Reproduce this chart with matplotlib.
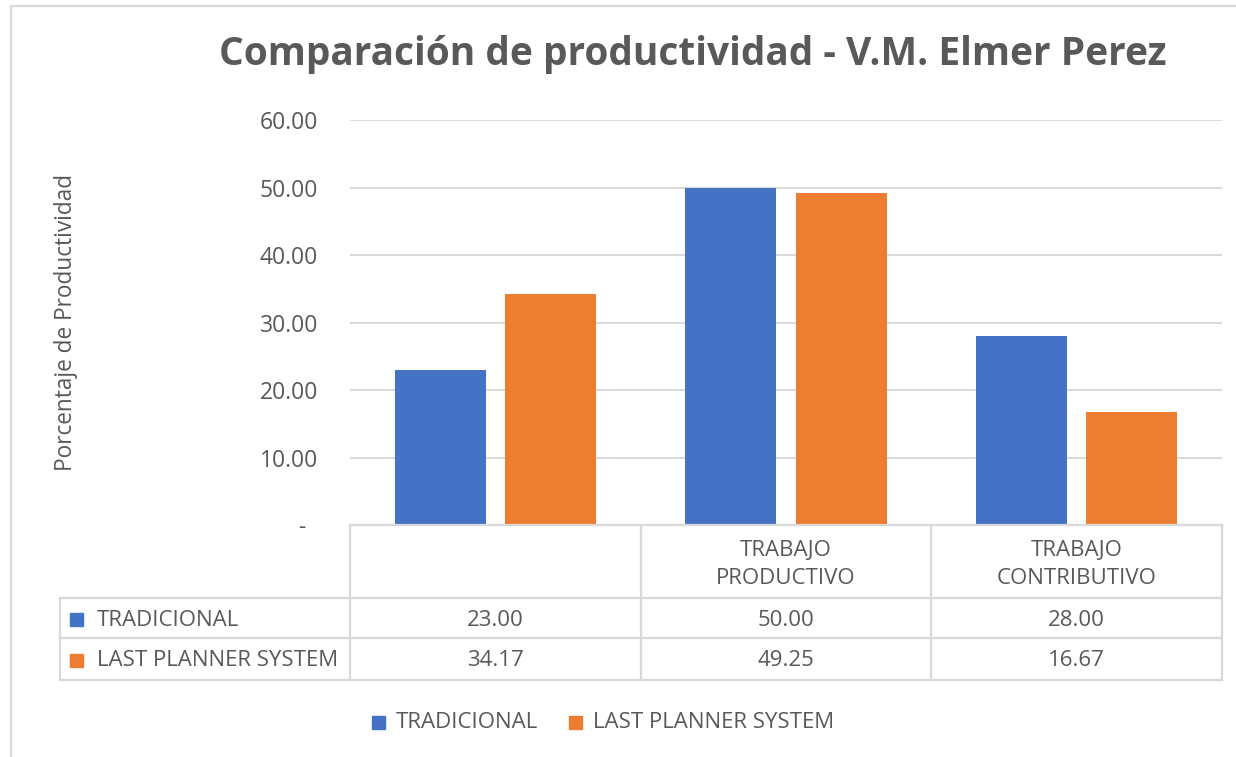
import matplotlib
matplotlib.use("Agg")
import matplotlib.pyplot as plt
from matplotlib.lines import Line2D
from matplotlib.patches import Rectangle
from matplotlib.transforms import blended_transform_factory

categories = ["", "TRABAJO\nPRODUCTIVO", "TRABAJO\nCONTRIBUTIVO"]
series_names = ["TRADICIONAL", "LAST PLANNER SYSTEM"]
tradicional = [23.00, 50.00, 28.00]
last_planner = [34.17, 49.25, 16.67]
yticks = [0, 10, 20, 30, 40, 50, 60]
colors = ["#4472C4", "#ED7D31"]
title = "Comparación de productividad - V.M. Elmer Perez"
ylabel = "Porcentaje de Productividad"

W, H = 1236, 757
FONT = "Open Sans"
TXT = "#595959"
GRID = "#D9D9D9"
FS = 16

fig = plt.figure(figsize=(W / 100, H / 100), dpi=100)
fig.patch.set_facecolor("white")

def fx(x):
    return x / W

def fy(y):
    return 1 - y / H

ax = fig.add_axes([fx(350), fy(525), fx(1222) - fx(350), (525 - 120) / H])
series = [tradicional, last_planner]
n = len(categories)
xs = list(range(n))
bw = 0.313
offs = [-0.19, 0.19]
for s, vals in enumerate(series):
    ax.bar([x + offs[s] for x in xs], vals, width=bw, color=colors[s], zorder=3)

ax.set_xlim(-0.5, n - 0.5)
ax.set_ylim(0, 60)
ax.set_yticks(yticks)
ax.set_yticklabels(["-  " if v == 0 else f"{v:.2f}" for v in yticks],
                   fontfamily=FONT, fontsize=16.5, color=TXT)
ax.tick_params(axis="y", length=0, pad=23)
ax.set_xticks([])
ax.grid(axis="y", color=GRID, linewidth=1.4, zorder=0)
for sp in ax.spines.values():
    sp.set_visible(False)

# y label
fig.text(fx(66), fy(322), ylabel, rotation=90, ha="center", va="center",
         fontfamily=FONT, fontsize=16.3, color=TXT)

# title
fig.text(fx(693), fy(54), title, ha="center", va="center",
         fontfamily=FONT, fontweight="bold", fontsize=28, color=TXT)

# frame border (partial)
fig.add_artist(Line2D([fx(11), fx(1236)], [fy(6), fy(6)], color=GRID, lw=1.6,
                      transform=fig.transFigure))
fig.add_artist(Line2D([fx(11), fx(11)], [fy(6), fy(757)], color=GRID, lw=1.6,
                      transform=fig.transFigure))

# data table
bt = blended_transform_factory(ax.transData, fig.transFigure)
row_top, row1, row2, row_bot = 525, 598, 638, 680
xl = -0.5
xr = n - 0.5
tl = dict(color=GRID, lw=1.6, clip_on=False)
fig.add_artist(Line2D([xl, xr], [fy(row_top)] * 2, transform=bt, **tl))
for yy in (row1, row2, row_bot):
    fig.add_artist(Line2D([fx(60), fx(350)], [fy(yy)] * 2, transform=fig.transFigure, **tl))
    fig.add_artist(Line2D([xl, xr], [fy(yy)] * 2, transform=bt, **tl))
for i in range(n + 1):
    xb = i - 0.5
    fig.add_artist(Line2D([xb, xb], [fy(row_top), fy(row_bot)], transform=bt, **tl))
fig.add_artist(Line2D([fx(60), fx(60)], [fy(row1), fy(row_bot)], transform=fig.transFigure, **tl))

# header text
for i, c in enumerate(categories):
    fig.text(i, fy((row_top + row1) / 2 + 3), c, transform=bt, ha="center", va="center",
             fontfamily=FONT, fontsize=FS, color=TXT, linespacing=1.5)

# rows
rows_y = [(row1 + row2) / 2 + 1, (row2 + row_bot) / 2 + 1]
for s, vals in enumerate(series):
    yc = rows_y[s]
    fig.add_artist(Rectangle((fx(70), fy(yc + 6.5)), 13 / W, 13 / H, color=colors[s],
                             transform=fig.transFigure))
    fig.text(fx(97), fy(yc + 1), series_names[s], ha="left", va="center",
             fontfamily=FONT, fontsize=FS, color=TXT)
    for i, v in enumerate(vals):
        fig.text(i, fy(yc + 1), f"{v:.2f}", transform=bt, ha="center", va="center",
                 fontfamily=FONT, fontsize=FS, color=TXT)

# bottom legend
leg_y = 722
leg_x = [372, 569]
for s in range(2):
    fig.add_artist(Rectangle((fx(leg_x[s]), fy(leg_y + 6.5)), 13 / W, 13 / H,
                             color=colors[s], transform=fig.transFigure))
    fig.text(fx(leg_x[s] + 24), fy(leg_y + 1), series_names[s], ha="left", va="center",
             fontfamily=FONT, fontsize=FS, color=TXT)

fig.savefig("out.png", dpi=100, facecolor="white")
